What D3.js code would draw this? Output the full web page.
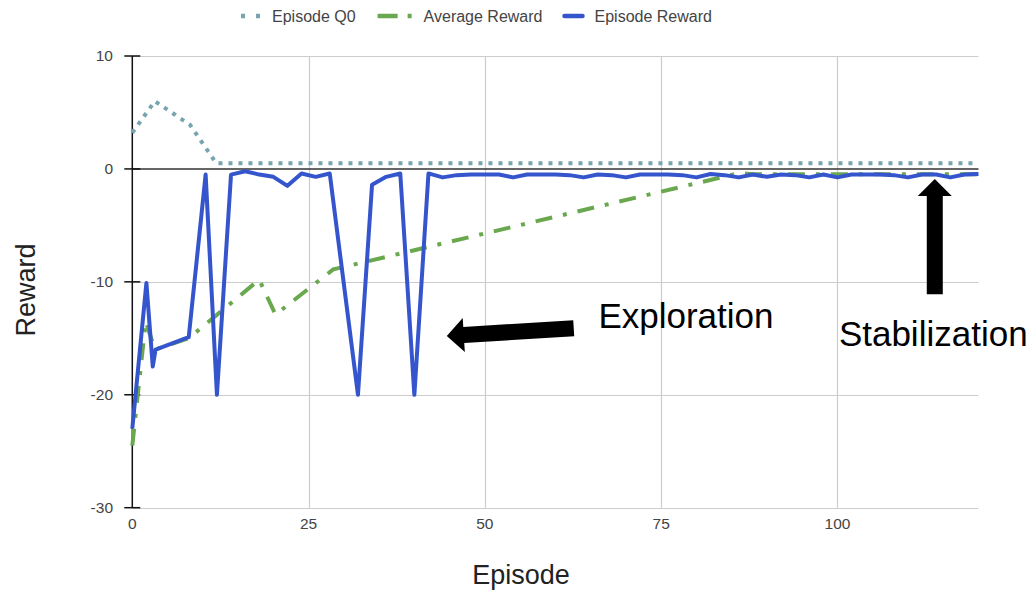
<!DOCTYPE html>
<html><head><meta charset="utf-8">
<script src="https://cdn.jsdelivr.net/npm/d3@7"></script>
<style>
body{margin:0;background:#fff}
svg{display:block}
text{font-family:"Liberation Sans",Arial,sans-serif}
</style>
</head><body>
<svg id="chart" width="1033" height="592"></svg>
<script>
// ---- data ----
const seriesNames = ["Episode Q0", "Average Reward", "Episode Reward"];
const seriesColors = ["#76a5af", "#6aa84f", "#3455cc"];

const q0Episodes = [0, 3.2, 8.2, 11.9, 120];
const q0Values   = [3.2, 6.0, 3.9, 0.5, 0.5];

const avgEpisodes = [0, 1.9, 3.2, 8, 18, 20.3, 28.5, 86.2, 88, 120];
const avgValues   = [-24.5, -13.5, -16, -15, -9.8, -12.9, -8.9, -0.35, -0.48, -0.48];

const rewardEpisodes = [0, 2, 2.9, 3.3, 8, 10.4, 12, 14, 16, 18, 20, 22, 24, 26, 28, 32, 34, 36, 38, 40, 42, 44, 46,
  48, 50, 52, 54, 56, 58, 60, 62, 64, 66, 68, 70, 72, 74, 76, 78, 80, 82, 84, 86, 88, 90, 92, 94, 96, 98,
  100, 102, 104, 106, 108, 110, 112, 114, 116, 118, 120];
const rewardValues   = [-23, -10.1, -17.5, -16, -14.9, -0.5, -20, -0.5, -0.2, -0.5, -0.7, -1.5, -0.4, -0.7, -0.4, -20, -1.4, -0.7, -0.4, -20, -0.4, -0.75, -0.55,
  -0.5, -0.5, -0.5, -0.75, -0.5, -0.5, -0.5, -0.55, -0.75, -0.5, -0.55, -0.75, -0.5, -0.5, -0.5, -0.55, -0.75, -0.45, -0.55, -0.75, -0.5, -0.7, -0.5, -0.55, -0.75, -0.5,
  -0.75, -0.5, -0.5, -0.5, -0.55, -0.75, -0.5, -0.5, -0.75, -0.5, -0.45];

const xTicks = [0, 25, 50, 75, 100];
const yTicks = [10, 0, -10, -20, -30];
const xDomain = [0, 120];
const yDomain = [-30, 10];

const xTitle = "Episode";
const yTitle = "Reward";

// annotations (in data coordinates)
const annoTexts = ["Exploration", "Stabilization"];
const annoTextEp = [66.1, 100.2];
const annoTextVal = [-14.07, -15.7];
const arrowTipEp = [44.6, 113.8];
const arrowTipVal = [-14.8, -0.9];
const arrowTailEp = [62.6, 113.8];
const arrowTailVal = [-14.1, -11.1];

// ---- drawing ----
const svg = d3.select("#chart");
const x = d3.scaleLinear().domain(xDomain).range([132.3, 978.5]);
const y = d3.scaleLinear().domain(yDomain).range([507.7, 56]);

const grid = svg.append("g");
grid.selectAll("line.h").data(yTicks.filter(d => d !== 0)).enter().append("line")
  .attr("x1", x(xDomain[0])).attr("x2", x(xDomain[1]))
  .attr("y1", d => Math.round(y(d)) + 0.5).attr("y2", d => Math.round(y(d)) + 0.5)
  .attr("stroke", "#cccccc").attr("stroke-width", 1.2);
grid.selectAll("line.v").data(xTicks.filter(d => d !== 0)).enter().append("line")
  .attr("x1", d => Math.round(x(d)) + 0.5).attr("x2", d => Math.round(x(d)) + 0.5)
  .attr("y1", y(yDomain[1])).attr("y2", y(yDomain[0]))
  .attr("stroke", "#cccccc").attr("stroke-width", 1.2);

svg.append("line")
  .attr("x1", x(xDomain[0])).attr("x2", x(xDomain[1]))
  .attr("y1", y(0)).attr("y2", y(0))
  .attr("stroke", "#333").attr("stroke-width", 1.5);

svg.append("line")
  .attr("x1", x(0)).attr("x2", x(0))
  .attr("y1", y(yDomain[1])).attr("y2", y(yDomain[0]))
  .attr("stroke", "#111").attr("stroke-width", 1.5);
svg.selectAll("line.yt").data(yTicks).enter().append("line")
  .attr("x1", x(0) - 8).attr("x2", x(0) + 8)
  .attr("y1", d => y(d)).attr("y2", d => y(d))
  .attr("stroke", "#111").attr("stroke-width", 1.5);

svg.selectAll("text.yl").data(yTicks).enter().append("text")
  .attr("x", 113).attr("y", d => y(d))
  .attr("dy", "0.35em").attr("text-anchor", "end")
  .attr("font-size", 15.5).attr("fill", "#444")
  .text(d => String(d));
svg.selectAll("text.xl").data(xTicks).enter().append("text")
  .attr("x", d => x(d)).attr("y", 529)
  .attr("text-anchor", "middle")
  .attr("font-size", 15.5).attr("fill", "#444")
  .text(d => d);

svg.append("text").attr("x", 521).attr("y", 584)
  .attr("text-anchor", "middle").attr("font-size", 27).attr("fill", "#222").text(xTitle);
svg.append("text").attr("transform", "translate(35,290) rotate(-90)")
  .attr("text-anchor", "middle").attr("font-size", 27).attr("fill", "#222").text(yTitle);

const lineGen = d3.line().x(d => x(d[0])).y(d => y(d[1]));
const q0Data = q0Episodes.map((e, i) => [e, q0Values[i]]);
const avgData = avgEpisodes.map((e, i) => [e, avgValues[i]]);
const rewardData = rewardEpisodes.map((e, i) => [e, rewardValues[i]]);

svg.append("path").datum(q0Data).attr("d", lineGen)
  .attr("fill", "none").attr("stroke", seriesColors[0]).attr("stroke-width", 4)
  .attr("stroke-dasharray", "4,6");
svg.append("path").datum(avgData).attr("d", lineGen)
  .attr("fill", "none").attr("stroke", seriesColors[1]).attr("stroke-width", 4)
  .attr("stroke-dasharray", "17,11,4,11");
svg.append("path").datum(rewardData).attr("d", lineGen)
  .attr("fill", "none").attr("stroke", seriesColors[2]).attr("stroke-width", 4)
  .attr("stroke-linejoin", "round");

const legendY = 16;
const symW = [19, 34, 18];
const symDash = ["4,11", "20,10,4,20", null];
let lx = 241;
seriesNames.forEach((name, i) => {
  const l = svg.append("line").attr("x1", lx).attr("x2", lx + symW[i])
    .attr("y1", legendY).attr("y2", legendY)
    .attr("stroke", seriesColors[i]).attr("stroke-width", 4.5);
  if (symDash[i]) l.attr("stroke-dasharray", symDash[i]);
  else l.attr("stroke-linecap", "round");
  const t = svg.append("text").attr("x", lx + symW[i] + 12).attr("y", legendY)
    .attr("dy", "0.36em").attr("font-size", 16).attr("fill", "#444").text(name);
  lx = lx + symW[i] + 12 + t.node().getComputedTextLength() + 22;
});

function arrowPath(tx, ty, sx, sy, headLen, headHalf, shaftHalf) {
  const dx = sx - tx, dy = sy - ty, len = Math.hypot(dx, dy);
  const ux = dx / len, uy = dy / len, nx = -uy, ny = ux;
  const bx = tx + ux * headLen, by = ty + uy * headLen;
  const pts = [
    [tx, ty],
    [bx + nx * headHalf, by + ny * headHalf],
    [bx + nx * shaftHalf, by + ny * shaftHalf],
    [sx + nx * shaftHalf, sy + ny * shaftHalf],
    [sx - nx * shaftHalf, sy - ny * shaftHalf],
    [bx - nx * shaftHalf, by - ny * shaftHalf],
    [bx - nx * headHalf, by - ny * headHalf]
  ];
  return "M" + pts.map(p => p.join(",")).join("L") + "Z";
}
annoTexts.forEach((t, i) => {
  svg.append("path")
    .attr("d", arrowPath(x(arrowTipEp[i]), y(arrowTipVal[i]), x(arrowTailEp[i]), y(arrowTailVal[i]), 17, 17, 8))
    .attr("fill", "#000");
  svg.append("text").attr("x", x(annoTextEp[i])).attr("y", y(annoTextVal[i]))
    .attr("font-size", 35).attr("fill", "#000").text(t);
});
</script>
</body></html>
